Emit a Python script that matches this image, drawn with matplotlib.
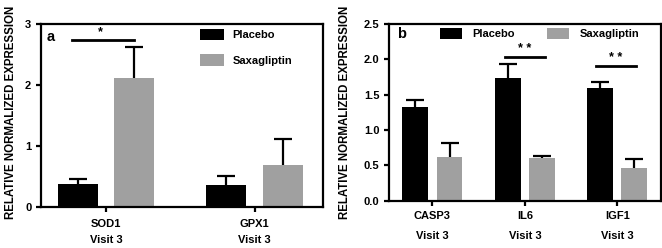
import numpy as np
import matplotlib
matplotlib.use('Agg')
import matplotlib.pyplot as plt

plt.rcParams['font.family'] = ['Liberation Sans', 'DejaVu Sans']
plt.rcParams['font.weight'] = 'bold'

# panel a
genes_a = ['SOD1', 'GPX1']
placebo_a = [0.39, 0.37]
placebo_a_err = [0.07, 0.15]
saxa_a = [2.12, 0.70]
saxa_a_err = [0.51, 0.42]

# panel b
genes_b = ['CASP3', 'IL6', 'IGF1']
placebo_b = [1.33, 1.73, 1.59]
placebo_b_err = [0.09, 0.21, 0.09]
saxa_b = [0.62, 0.61, 0.46]
saxa_b_err = [0.19, 0.02, 0.13]

visit = 'Visit 3'
c_placebo = '#000000'
c_saxa = '#a0a0a0'

fig = plt.figure(figsize=(6.62, 2.48), dpi=100)
ax1 = fig.add_axes([0.062, 0.164, 0.4255, 0.739])
ax2 = fig.add_axes([0.5876, 0.191, 0.4104, 0.712])


def up_err(ax, x, y, e):
    # only the upper half of the error bar, cap on top only
    _, caps, _ = ax.errorbar(x, y, yerr=[np.zeros(len(y)), e], fmt='none',
                             ecolor='black', capsize=6.5, elinewidth=1.6,
                             capthick=1.6)
    caps[0].set_visible(False)


def draw(ax, genes, p, pe, s, se, w, off, lsp, pad, lpad):
    x = np.arange(len(genes))
    ax.bar(x - off, p, w, color=c_placebo, label='Placebo')
    ax.bar(x + off, s, w, color=c_saxa, label='Saxagliptin')
    up_err(ax, x - off, p, pe)
    up_err(ax, x + off, s, se)
    ax.set_xticks(x)
    ax.set_xticklabels([g + '\n' + visit for g in genes], fontsize=8.5,
                       fontweight='bold', linespacing=lsp)
    for sp in ax.spines.values():
        sp.set_linewidth(1.6)
    ax.tick_params(axis='both', width=1.6, length=3.5, labelsize=8)
    ax.tick_params(axis='x', pad=pad)
    ax.set_ylabel('RELATIVE NORMALIZED EXPRESSION', fontsize=8.3,
                  fontweight='bold', labelpad=lpad)
    for t in ax.get_yticklabels():
        t.set_fontweight('bold')
    return x


x = draw(ax1, genes_a, placebo_a, placebo_a_err, saxa_a, saxa_a_err,
         0.27, 0.19, 1.75, 5, 6)
ax1.set_xlim(-0.44, 1.46)
ax1.set_ylim(0, 3)
ax1.set_yticks([0, 1, 2, 3])
ax1.plot([-0.23, 0.19], [2.74, 2.74], color='black', lw=2)
ax1.text(-0.04, 2.77, '*', ha='center', va='bottom', fontsize=9, fontweight='bold')
ax1.text(0.02, 0.97, 'a', transform=ax1.transAxes, fontsize=10.5,
         fontweight='bold', va='top')
ax1.legend(loc='upper left', bbox_to_anchor=(0.53, 1.03), frameon=False,
           fontsize=8, handlelength=2.1, handleheight=1.2, labelspacing=1.3,
           handletextpad=0.8)
ax1.yaxis.label.set_position((0, 0.52))

x = draw(ax2, genes_b, placebo_b, placebo_b_err, saxa_b, saxa_b_err,
         0.28, 0.185, 2.3, 4, 9)
ax2.set_xlim(-0.47, 2.47)
ax2.set_ylim(0, 2.5)
ax2.set_yticks(np.arange(0, 2.51, 0.5))
ax2.set_yticklabels(['%.1f' % v for v in np.arange(0, 2.51, 0.5)], fontweight='bold')
ax2.plot([0.78, 1.22], [2.04, 2.04], color='black', lw=2)
ax2.text(1.0, 2.06, '* *', ha='center', va='bottom', fontsize=9, fontweight='bold')
ax2.plot([1.77, 2.2], [1.91, 1.91], color='black', lw=2)
ax2.text(1.98, 1.93, '* *', ha='center', va='bottom', fontsize=9, fontweight='bold')
ax2.text(0.03, 0.985, 'b', transform=ax2.transAxes, fontsize=10.5,
         fontweight='bold', va='top')
ax2.legend(loc='upper left', bbox_to_anchor=(0.15, 1.035), frameon=False,
           fontsize=8, ncol=2, handlelength=2.0, handleheight=1.1,
           columnspacing=2.95, handletextpad=0.9)
ax2.yaxis.label.set_position((0, 0.50))

fig.savefig('out.png', dpi=100)
